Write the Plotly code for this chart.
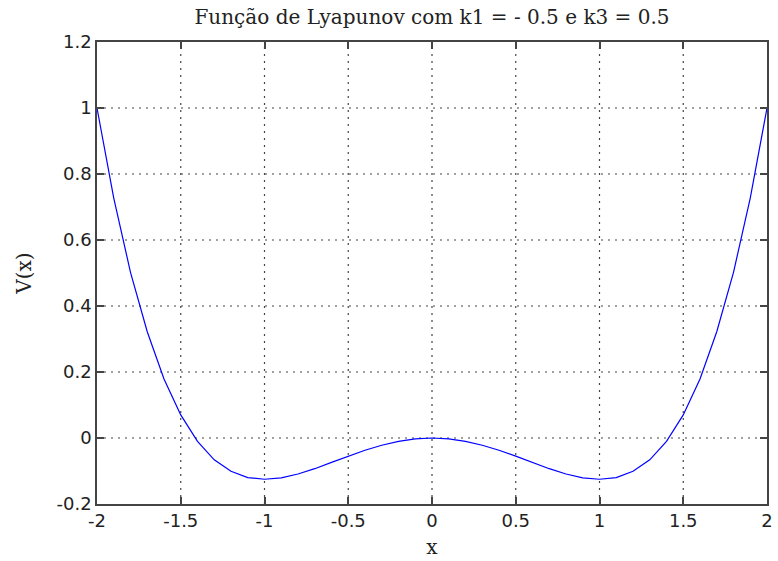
import plotly.graph_objects as go

x_vals = [-2.0, -1.9, -1.8, -1.7, -1.6, -1.5, -1.4, -1.3, -1.2, -1.1, -1.0,
          -0.9, -0.8, -0.7, -0.6, -0.5, -0.4, -0.3, -0.2, -0.1, 0.0,
          0.1, 0.2, 0.3, 0.4, 0.5, 0.6, 0.7, 0.8, 0.9, 1.0,
          1.1, 1.2, 1.3, 1.4, 1.5, 1.6, 1.7, 1.8, 1.9, 2.0]
v_vals = [1.0, 0.727, 0.502, 0.322, 0.179, 0.070, -0.010, -0.066, -0.101, -0.120, -0.125,
          -0.121, -0.109, -0.093, -0.074, -0.055, -0.037, -0.022, -0.010, -0.0025, 0.0,
          -0.0025, -0.010, -0.022, -0.037, -0.055, -0.074, -0.093, -0.109, -0.121, -0.125,
          -0.120, -0.101, -0.066, -0.010, 0.070, 0.179, 0.322, 0.502, 0.727, 1.0]

x_ticks = [-2, -1.5, -1, -0.5, 0, 0.5, 1, 1.5, 2]
x_ticktext = ["-2", "-1.5", "-1", "-0.5", "0", "0.5", "1", "1.5", "2"]
y_ticks = [-0.2, 0, 0.2, 0.4, 0.6, 0.8, 1, 1.2]
y_ticktext = ["-0.2", "0", "0.2", "0.4", "0.6", "0.8", "1", "1.2"]

fig = go.Figure()
fig.add_trace(go.Scatter(x=x_vals, y=v_vals, mode="lines",
                         line=dict(color="#0000ff", width=1.2), showlegend=False))

grid_style = dict(color="#444444", width=1.2, dash="2px,5px")
for xv in x_ticks[1:-1]:
    fig.add_shape(type="line", x0=xv, x1=xv, y0=y_ticks[0], y1=y_ticks[-1], xref="x", yref="y",
                  line=grid_style, layer="below")
for yv in y_ticks[1:-1]:
    fig.add_shape(type="line", x0=x_ticks[0], x1=x_ticks[-1], y0=yv, y1=yv, xref="x", yref="y",
                  line=grid_style, layer="below")

tickfont = dict(family="DejaVu Sans", size=18, color="#222222")
labelfont = dict(family="DejaVu Serif", size=20, color="#222222")
fig.update_xaxes(range=[-2, 2], tickvals=x_ticks, ticktext=x_ticktext,
                 ticks="inside", ticklen=7, tickcolor="#444444", tickwidth=1.5, mirror="ticks",
                 showline=True, linecolor="#444444", linewidth=1.5,
                 showgrid=False, zeroline=False, tickfont=tickfont,
                 title=dict(text="x", font=labelfont, standoff=10))
fig.update_yaxes(range=[-0.2, 1.2], tickvals=y_ticks, ticktext=y_ticktext,
                 ticks="inside", ticklen=7, tickcolor="#444444", tickwidth=1.5, mirror="ticks",
                 showline=True, linecolor="#444444", linewidth=1.5,
                 showgrid=False, zeroline=False, tickfont=tickfont,
                 title=dict(text="V(x)", font=labelfont, standoff=20))

fig.update_layout(
    width=778, height=561,
    margin=dict(l=97, r=5, t=42, b=57),
    paper_bgcolor="white", plot_bgcolor="white",
    title=dict(text="Função de Lyapunov com k1 = - 0.5 e k3 = 0.5",
               font=dict(family="DejaVu Serif", size=20, color="#222222"),
               xref="paper", x=0.5, xanchor="center", y=0.97, yanchor="middle"),
)

fig.write_html("out.html")
